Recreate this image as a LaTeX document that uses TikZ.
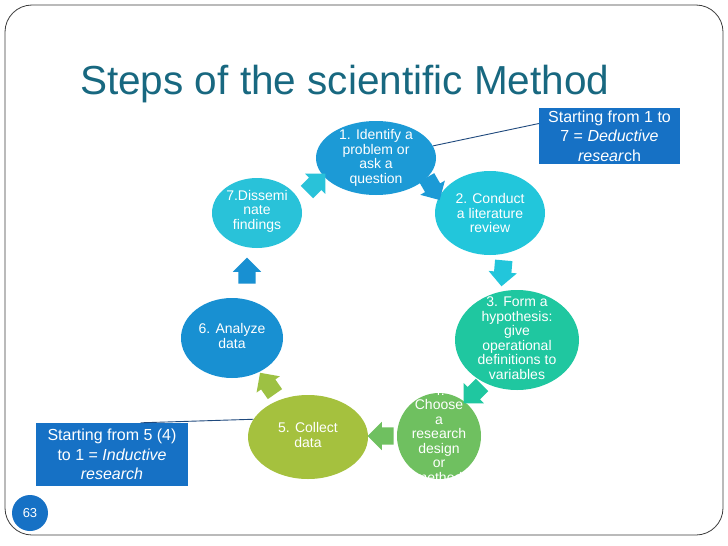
\documentclass[tikz,border=0pt]{standalone}
\usepackage{fontspec}
\setmainfont{Liberation Sans}
\usetikzlibrary{shapes.geometric,shapes.arrows}
\definecolor{titlecol}{RGB}{24,104,128}
\definecolor{cA}{RGB}{28,154,214}
\definecolor{cB}{RGB}{34,198,219}
\definecolor{cC}{RGB}{31,199,160}
\definecolor{cD}{RGB}{111,192,96}
\definecolor{cE}{RGB}{165,193,62}
\definecolor{cF}{RGB}{24,144,210}
\definecolor{cG}{RGB}{41,194,217}
\definecolor{boxblue}{RGB}{22,113,197}
\definecolor{linecol}{RGB}{31,73,125}
\definecolor{framecol}{RGB}{60,60,60}
\tikzset{
  stepell/.style={ellipse, draw=none, inner sep=0pt},
  steptxt/.style={text=white, align=center, inner sep=0pt, font=\fontsize{14}{14.5}\selectfont},
  blockarrow/.style={single arrow, draw=none, inner xsep=0pt, inner ysep=8.5pt, minimum height=26pt, single arrow head extend=5.5pt, single arrow head indent=0pt},
  calloutbox/.style={rectangle, fill=boxblue, text=white, align=center, inner sep=0pt, font=\fontsize{16}{19.5}\selectfont},
  calloutline/.style={draw=linecol, line width=0.9pt}
}
\begin{document}
\begin{tikzpicture}[x=1pt,y=-1pt]
\useasboundingbox (0,0) rectangle (728,546);
\fill[white] (0,0) rectangle (728,546);
% frame
\draw[framecol, line width=0.8pt, rounded corners=27pt] (5,5) rectangle (723,535);
% title
\node[anchor=base west, inner sep=0pt, text=titlecol, font=\fontsize{40.5}{44}\selectfont] (title) at (80,94) {Steps of the scientific Method};
% ellipses
\node[stepell, fill=cA, minimum width=120pt, minimum height=74pt] (n1) at (376,158) {};
\node[stepell, fill=cB, minimum width=110pt, minimum height=84pt] (n2) at (490,213) {};
\node[stepell, fill=cC, minimum width=124pt, minimum height=100pt] (n3) at (517,340) {};
\node[stepell, fill=cD, minimum width=84pt, minimum height=86pt] (n4) at (439,436) {};
\node[stepell, fill=cE, minimum width=120pt, minimum height=84pt] (n5) at (308,437) {};
\node[stepell, fill=cF, minimum width=102pt, minimum height=80pt] (n6) at (232,338) {};
\node[stepell, fill=cG, minimum width=90pt, minimum height=70pt] (n7) at (257,213) {};
% texts
\node[steptxt] (t1) at (376,158) {1. Identify a\\problem or\\ask a\\question};
\node[steptxt] (t2) at (490,213) {2. Conduct\\a literature\\review};
\node[steptxt] (t3) at (517,338) {3. Form a\\hypothesis:\\give\\operational\\definitions to\\variables};
\begin{scope}
\clip (396,393) rectangle (482,478);
\node[steptxt] (t4) at (439,434) {4.\\Choose\\a\\research\\design\\or\\method};
\end{scope}
\node[steptxt] (t5) at (308,435) {5. Collect\\data};
\node[steptxt] (t6) at (232,336) {6. Analyze\\data};
\node[steptxt] (t7) at (257,211) {7.Dissemi\\nate\\findings};
% arrows
\node[blockarrow, fill=cG, rotate=45] (a71) at (313,186) {};
\node[blockarrow, fill=cA, rotate=-60] (a12) at (431,185) {};
\node[blockarrow, fill=cB, rotate=-95] (a23) at (503,269) {};
\node[blockarrow, fill=cC, rotate=-135] (a34) at (476,391) {};
\node[blockarrow, fill=cD, rotate=180] (a45) at (385,436) {};
\node[blockarrow, fill=cE!85!cD, rotate=125] (a56) at (270,387) {};
\node[blockarrow, fill=cF, rotate=90] (a67) at (247,275) {};
% callouts
\node[calloutbox, minimum width=141pt, minimum height=56pt] (ded) at (609.5,136) {Starting from 1 to\\7 = \textit{Deductive}\\\textit{resear}ch};
\node[calloutbox, minimum width=152pt, minimum height=63pt] (ind) at (112,454.5) {Starting from 5 (4)\\to 1 = \textit{Inductive}\\\textit{research}};
\draw[calloutline] (ded.170) -- (n1.12);
\draw[calloutline] (ind.48) -- (n5.162);
% page number
\node[circle, fill=boxblue, minimum size=36pt, inner sep=0pt, text=white, font=\fontsize{13}{15}\selectfont] (pg) at (30,513) {63};
\end{tikzpicture}
\end{document}
